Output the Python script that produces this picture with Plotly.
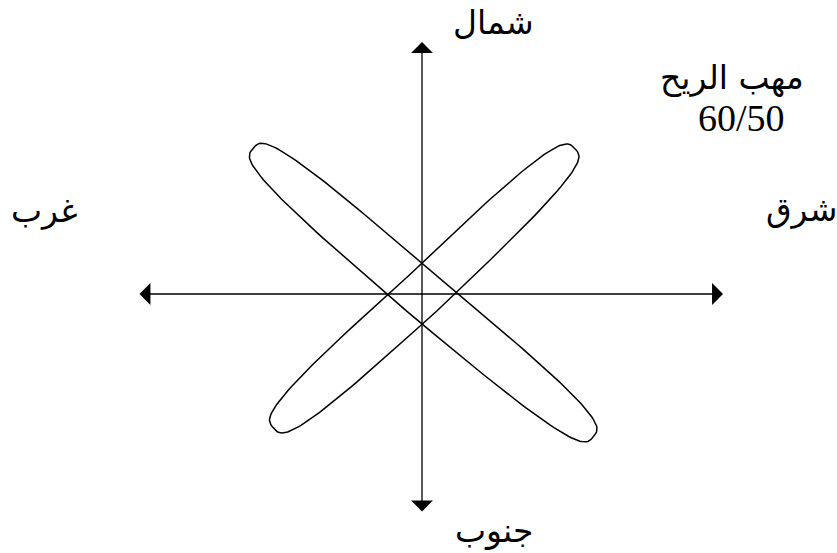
import numpy as np
import plotly.graph_objects as go

# compass labels (N, E, S, W) and the caption in the corner
directions = ["شمال", "شرق", "جنوب", "غرب"]
caption = "مهب الريح"
caption_value = "60/50"

# the two loops of the rose, each made of two arms
# bearing of each arm in degrees (clockwise from north) and its length
arm_bearings = [[46.4, 227.9], [310.8, 129.8]]
arm_lengths = [[211, 200], [223, 223]]
loop_half_width = [22.5, 23.0]
squareness = 3.4

# axis arrows: half-lengths towards N, E, S, W
axis_reach = [252, 301, 219, 284]


def half_loop(bearing, length, half_width, n=squareness, k=80):
    """one arm of a loop, drawn as half of a superellipse along the bearing"""
    t = np.linspace(-np.pi / 2, np.pi / 2, k)
    u = length * np.sign(np.cos(t)) * np.abs(np.cos(t)) ** (2 / n)
    v = half_width * np.sign(np.sin(t)) * np.abs(np.sin(t)) ** (2 / n)
    b = np.radians(bearing)
    d = np.array([np.sin(b), np.cos(b)])
    p = np.array([d[1], -d[0]])
    return u * d[0] + v * p[0], u * d[1] + v * p[1]


fig = go.Figure()

for bearings, lengths, hw in zip(arm_bearings, arm_lengths, loop_half_width):
    xs, ys = [], []
    for b, l in zip(bearings, lengths):
        x, y = half_loop(b, l, hw)
        xs.extend(x)
        ys.extend(y)
    xs.append(xs[0])
    ys.append(ys[0])
    fig.add_trace(go.Scatter(x=xs, y=ys, mode="lines",
                             line=dict(color="black", width=1.5),
                             hoverinfo="skip", showlegend=False))

# the two double-headed axis arrows
n_r, e_r, s_r, w_r = axis_reach
arrow_style = dict(xref="x", yref="y", axref="x", ayref="y", text="",
                   showarrow=True, arrowhead=1, startarrowhead=1,
                   arrowside="end+start", arrowwidth=1.3, arrowsize=2.8,
                   startarrowsize=2.8, arrowcolor="black", standoff=0,
                   startstandoff=0)
fig.add_annotation(x=0, y=n_r, ax=0, ay=-s_r, **arrow_style)
fig.add_annotation(x=e_r, y=0, ax=-w_r, ay=0, **arrow_style)

arabic = dict(family="DejaVu Sans", size=33, color="black")
label_pos = [(71.5, 272), (379, 85), (71.5, -236), (-377.5, 84)]
for txt, (lx, ly) in zip(directions, label_pos):
    fig.add_annotation(x=lx, y=ly, text=txt, showarrow=False, font=arabic,
                       xanchor="center", yanchor="middle")

fig.add_annotation(x=310, y=217, text=caption, showarrow=False, font=arabic,
                   xanchor="center", yanchor="middle")
fig.add_annotation(x=319.5, y=176.5, text=caption_value, showarrow=False,
                   font=dict(family="Liberation Serif", size=38, color="black"),
                   xanchor="center", yanchor="middle")

fig.update_xaxes(range=[-422, 415], visible=False, fixedrange=True)
fig.update_yaxes(range=[-259, 294], visible=False, fixedrange=True)
fig.update_layout(width=837, height=553, margin=dict(l=0, r=0, t=0, b=0),
                  plot_bgcolor="white", paper_bgcolor="white")

# drop the page's default body margin so the figure sits at the corner
fig.write_html("out.html", config={"displayModeBar": False},
               post_script="document.body.style.margin='0';")
